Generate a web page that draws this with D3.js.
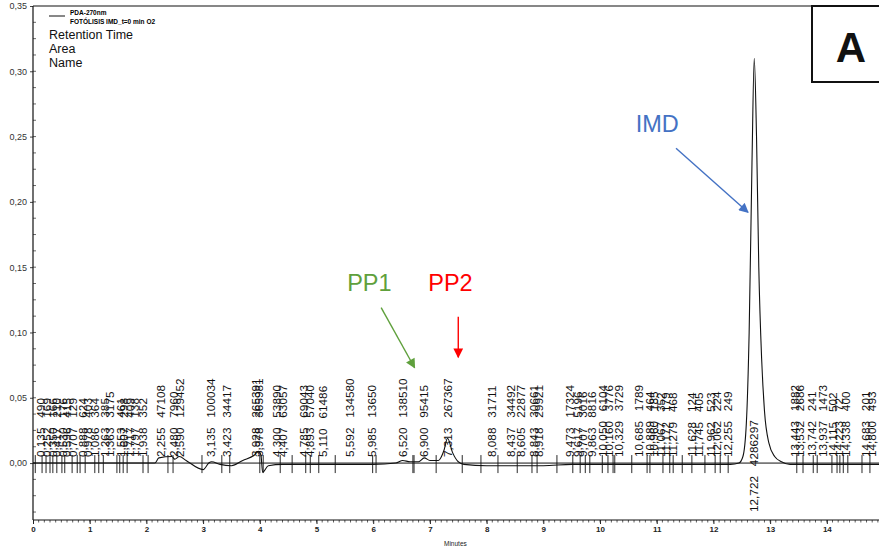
<!DOCTYPE html>
<html>
<head>
<meta charset="utf-8">
<script src="https://cdn.jsdelivr.net/npm/d3@7"></script>
<style>
  body { margin: 0; background: #fff; }
  svg { display: block; font-family: "Liberation Sans", Arial, sans-serif; }
</style>
</head>
<body>
<div id="chart"></div>
<script>
// ---- chromatogram trace (minutes, AU)
var traceTime = [0.00, 2.15, 2.22, 2.45, 2.50, 2.58, 2.70, 3.00, 3.10, 3.15, 3.30, 3.50, 3.70, 3.90, 3.98, 4.02, 4.05, 4.15, 4.40, 5.00, 6.00, 6.40, 6.52, 6.65, 6.80, 6.90, 7.00, 7.15, 7.25, 7.31, 7.40, 7.50, 7.60, 8.00, 9.00, 9.50, 10.50, 12.30, 12.45, 12.52, 12.58, 12.63, 12.68, 12.72, 12.76, 12.80, 12.85, 12.90, 12.98, 13.08, 13.20, 13.35, 14.92];
var traceAbs  = [0.000, 0.000, 0.004, 0.005, 0.003, 0.005, 0.002, -0.005, 0.000, 0.001, -0.001, -0.002, 0.002, 0.006, 0.009, 0.006, -0.007, -0.002, -0.001, -0.001, -0.001, 0.000, 0.002, 0.001, 0.001, 0.004, 0.002, 0.002, 0.010, 0.019, 0.008, 0.001, -0.001, -0.002, -0.002, -0.001, -0.001, -0.001, 0.000, 0.005, 0.030, 0.100, 0.230, 0.310, 0.250, 0.150, 0.080, 0.040, 0.015, 0.005, 0.001, -0.001, -0.001];

// ---- integrated peaks: retention time and area
var peakRT   = [0.135, 0.252, 0.350, 0.417, 0.530, 0.596, 0.707, 0.888, 0.978, 1.086, 1.263, 1.363, 1.553, 1.607, 1.717, 1.797, 1.938,
                2.255, 2.480, 2.590, 3.135, 3.423, 3.928, 3.978, 4.300, 4.407, 4.785, 4.893, 5.110, 5.592, 5.985, 6.520, 6.900, 7.313,
                8.088, 8.437, 8.605, 8.843, 8.918, 9.473, 9.617, 9.707, 9.863, 10.050, 10.160, 10.329,
                10.685, 10.889, 10.960, 11.067, 11.172, 11.279, 11.628, 11.745, 11.962, 12.062, 12.255, 12.722,
                13.443, 13.532, 13.742, 13.937, 14.115, 14.223, 14.338, 14.683, 14.800];
var peakArea = ["490", "169", "166", "210", "176", "415", "129", "624", "403", "364", "385", "3175", "461", "298", "409", "138", "352",
                "47108", "7960", "129452", "100034", "34417", "265391", "365981", "53890", "63057", "69043", "57040", "61486", "134580", "13650", "138510", "95415", "267367",
                "31711", "34492", "22877", "30661", "29921", "17324", "5196", "3016", "8816", "6104", "3776", "3729",
                "1789", "464", "185", "352", "179", "468", "124", "405", "523", "224", "249", "4286297",
                "1882", "2686", "241", "1473", "502", "72", "400", "201", "493"];

// ---- integration event marks on the baseline
var eventTime = [0.04, 0.16, 0.23, 0.30, 0.35, 0.42, 0.51, 0.56, 0.69, 0.78, 0.83, 0.92, 1.09, 1.16, 1.24, 1.48, 1.53, 1.59, 1.66, 1.94, 2.03,
                 2.38, 2.47, 2.98, 3.33, 3.47, 4.00, 4.06, 4.36, 4.57, 4.81, 4.89, 5.04, 5.33, 5.99, 6.05, 6.70,
                 6.72, 7.11, 7.57, 7.90, 8.20, 8.54, 8.80, 8.89, 9.24, 9.52, 9.65, 9.74, 9.82, 10.04, 10.14, 10.23,
                 10.26, 10.56, 10.83, 10.88, 11.11, 11.23, 11.29, 11.45, 11.62, 11.85, 12.03, 12.12, 12.26,
                 13.47, 13.58, 13.76, 13.83, 14.09, 14.18, 14.23, 14.29, 14.37, 14.62, 14.76];

var yTicks = [0.00, 0.05, 0.10, 0.15, 0.20, 0.25, 0.30, 0.35];
var xTicks = [0, 1, 2, 3, 4, 5, 6, 7, 8, 9, 10, 11, 12, 13, 14];

var legendLines = ["Retention Time", "Area", "Name"];

var width = 879, height = 548;
var svg = d3.select("#chart").append("svg")
  .attr("width", width)
  .attr("height", height);

var x = d3.scaleLinear().domain([0, 14.92]).range([33, 879]);
var y = d3.scaleLinear().domain([-0.0436, 0.35]).range([520, 6]);

var comma = function(v, f) { return d3.format(f)(v).replace(".", ","); };

// arrow heads
var defs = svg.append("defs");
[["blue", "#4472C4"], ["green", "#5FA03C"], ["red", "#FF0000"]].forEach(function(m) {
  defs.append("marker")
    .attr("id", "head-" + m[0])
    .attr("viewBox", "0 0 10 10")
    .attr("refX", 9).attr("refY", 5)
    .attr("markerWidth", 8).attr("markerHeight", 7)
    .attr("markerUnits", "strokeWidth")
    .attr("orient", "auto")
    .append("path")
    .attr("d", "M0,0 L10,5 L0,10 z")
    .attr("fill", m[1]);
});

// ---- axes
var yAxis = d3.axisLeft(y).tickValues(yTicks).tickSize(3).tickFormat(function(d) { return comma(d, ".2f"); });
var gy = svg.append("g").attr("transform", "translate(33,0)").call(yAxis);
gy.select(".domain").remove();
gy.selectAll("text").attr("font-size", 9).attr("fill", "#333").attr("x", -6);
gy.selectAll("line").attr("stroke", "#444");

// minor y ticks
svg.append("g").selectAll("line")
  .data(d3.range(-0.0375, 0.35, 0.0125))
  .join("line")
  .attr("x1", 33).attr("x2", 36)
  .attr("y1", d => y(d)).attr("y2", d => y(d))
  .attr("stroke", "#444").attr("stroke-width", 0.8);

var xAxis = d3.axisBottom(x).tickValues(xTicks).tickSize(4).tickFormat(d3.format("d"));
var gx = svg.append("g").attr("transform", "translate(0,520)").call(xAxis);
gx.select(".domain").remove();
gx.selectAll("text").attr("font-size", 8).attr("font-weight", "bold").attr("fill", "#222").attr("y", 6);
gx.selectAll("line").attr("stroke", "#222");

// minor x ticks every 0.1 min
svg.append("g").selectAll("line")
  .data(d3.range(0.1, 14.92, 0.1))
  .join("line")
  .attr("x1", d => x(d)).attr("x2", d => x(d))
  .attr("y1", 520).attr("y2", 522.5)
  .attr("stroke", "#333").attr("stroke-width", 0.8);

// frame: left, bottom, top
svg.append("line").attr("x1", 33).attr("x2", 33).attr("y1", 6).attr("y2", 520).attr("stroke", "#111").attr("stroke-width", 1.2);
svg.append("line").attr("x1", 33).attr("x2", 879).attr("y1", 520).attr("y2", 520).attr("stroke", "#111").attr("stroke-width", 1.2);
svg.append("line").attr("x1", 33).attr("x2", 812).attr("y1", 6).attr("y2", 6).attr("stroke", "#111").attr("stroke-width", 1.2);

svg.append("text")
  .attr("x", 444).attr("y", 546)
  .attr("font-size", 6.5).attr("fill", "#222")
  .text("Minutes");

// ---- baseline at zero
svg.append("line")
  .attr("x1", x(0)).attr("x2", x(14.92))
  .attr("y1", y(0)).attr("y2", y(0))
  .attr("stroke", "#111").attr("stroke-width", 1);

// ---- trace
var trace = traceTime.map(function(t, i) { return [t, traceAbs[i]]; });
svg.append("path")
  .datum(trace)
  .attr("fill", "none")
  .attr("stroke", "#111")
  .attr("stroke-width", 1.1)
  .attr("d", d3.line().x(d => x(d[0])).y(d => y(d[1])).curve(d3.curveMonotoneX));

// ---- integration marks
svg.append("g").selectAll("line")
  .data(eventTime)
  .join("line")
  .attr("x1", d => x(d)).attr("x2", d => x(d))
  .attr("y1", y(0) - 8).attr("y2", y(0) + 10)
  .attr("stroke", "#111").attr("stroke-width", 0.9);

// ---- peak labels (vertical)
var maxArea = d3.max(peakArea, d => +d);
svg.append("g").selectAll("text")
  .data(peakRT)
  .join("text")
  .attr("transform", function(d, i) {
    // the main peak's label is pushed down across the baseline
    var y0 = (+peakArea[i] === maxArea) ? y(0) + 49 : y(0) - 6;
    return "translate(" + (x(d) + 4) + "," + y0 + ") rotate(-90)";
  })
  .attr("font-size", 11.8)
  .attr("fill", "#111")
  .text(function(d, i) { return comma(d, ".3f") + "\u00a0\u00a0\u00a0" + peakArea[i]; });

// ---- legend
svg.append("line").attr("x1", 49).attr("x2", 65).attr("y1", 16).attr("y2", 16).attr("stroke", "#111").attr("stroke-width", 1);
svg.append("text").attr("x", 70).attr("y", 14.5).attr("font-size", 6.5).attr("font-weight", "bold").text("PDA-270nm");
svg.append("text").attr("x", 70).attr("y", 23.5).attr("font-size", 6.5).attr("font-weight", "bold").text("FOTÓLISIS IMD_t=0 min O2");
svg.append("g").selectAll("text")
  .data(legendLines)
  .join("text")
  .attr("x", 49)
  .attr("y", (d, i) => 38.5 + i * 14.3)
  .attr("font-size", 12.5)
  .attr("fill", "#111")
  .text(d => d);

// ---- annotations
svg.append("text").attr("x", x(10.63)).attr("y", y(0.2535)).attr("font-size", 23.5).attr("fill", "#4472C4").text("IMD");
svg.append("line")
  .attr("x1", x(11.34)).attr("y1", y(0.241))
  .attr("x2", x(12.61)).attr("y2", y(0.192))
  .attr("stroke", "#4472C4").attr("stroke-width", 1.4)
  .attr("marker-end", "url(#head-blue)");

svg.append("text").attr("x", x(5.54)).attr("y", y(0.1315)).attr("font-size", 23.5).attr("fill", "#5FA03C").text("PP1");
svg.append("line")
  .attr("x1", x(6.14)).attr("y1", y(0.119))
  .attr("x2", x(6.73)).attr("y2", y(0.073))
  .attr("stroke", "#5FA03C").attr("stroke-width", 1.4)
  .attr("marker-end", "url(#head-green)");

svg.append("text").attr("x", x(6.97)).attr("y", y(0.1315)).attr("font-size", 23.5).attr("fill", "#FF0000").text("PP2");
svg.append("line")
  .attr("x1", x(7.50)).attr("y1", y(0.112))
  .attr("x2", x(7.50)).attr("y2", y(0.081))
  .attr("stroke", "#FF0000").attr("stroke-width", 1.4)
  .attr("marker-end", "url(#head-red)");

// ---- panel letter box
svg.append("rect")
  .attr("x", 812).attr("y", 6).attr("width", 80).attr("height", 76)
  .attr("fill", "#fff").attr("stroke", "#111").attr("stroke-width", 2);
svg.append("text")
  .attr("x", 851).attr("y", 62)
  .attr("text-anchor", "middle")
  .attr("font-size", 42).attr("font-weight", "bold").attr("fill", "#111")
  .text("A");
</script>
</body>
</html>
